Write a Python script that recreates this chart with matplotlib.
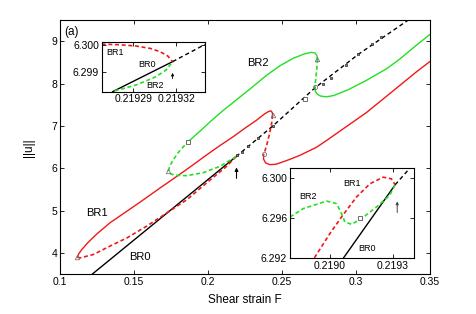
import matplotlib
matplotlib.use("Agg")
import matplotlib.pyplot as plt

plt.rcParams["font.family"] = ["Liberation Sans", "DejaVu Sans"]

RED = "#f01818"
GREEN = "#22e022"
MK = "#777777"

# ---- main panel data ----
br0_solid_x = [0.1215, 0.2190]
br0_solid_y = [3.50, 6.28]
br0_dash_x = [0.2190, 0.2441, 0.2723, 0.3016, 0.3354]
br0_dash_y = [6.28, 7.01, 7.90, 8.69, 9.50]
br0_mark_x = [0.2194, 0.2227, 0.2272, 0.2340, 0.2441, 0.2779, 0.2831, 0.2932, 0.3016, 0.3106, 0.3167]
br0_mark_y = [6.32, 6.40, 6.52, 6.72, 7.01, 7.99, 8.14, 8.43, 8.69, 8.94, 9.11]

br1_dash_low_x = [0.1118, 0.1135, 0.1225, 0.1338, 0.1451, 0.1586, 0.1721, 0.1856, 0.1991, 0.2126, 0.2190]
br1_dash_low_y = [3.91, 3.89, 3.97, 4.17, 4.36, 4.64, 4.95, 5.26, 5.66, 6.05, 6.28]
br1_solid_up_x = [0.1118, 0.1125, 0.1145, 0.1185, 0.1250, 0.1338, 0.1451, 0.1563, 0.1676, 0.1788, 0.1901,
                  0.1991, 0.2081, 0.2171, 0.2250, 0.2329, 0.2380, 0.2408, 0.2425, 0.2435, 0.2437]
br1_solid_up_y = [3.91, 3.98, 4.08, 4.24, 4.46, 4.72, 4.99, 5.26, 5.54, 5.81, 6.09,
                  6.32, 6.54, 6.75, 6.95, 7.14, 7.28, 7.34, 7.36, 7.32, 7.26]
br1_dash_fold_x = [0.2437, 0.2430, 0.2415, 0.2397, 0.2384, 0.2376]
br1_dash_fold_y = [7.26, 7.05, 6.80, 6.55, 6.40, 6.33]
br1_solid_right_x = [0.2376, 0.2376, 0.2390, 0.2419, 0.2460, 0.2486, 0.2550, 0.2622, 0.2734,
                     0.2802, 0.2892, 0.3072, 0.3252, 0.3410, 0.3500]
br1_solid_right_y = [6.33, 6.22, 6.13, 6.09, 6.10, 6.13, 6.21, 6.31, 6.50,
                     6.66, 6.88, 7.32, 7.83, 8.28, 8.52]

br2_dash_low_x = [0.2190, 0.2171, 0.2081, 0.1968, 0.1856, 0.1780, 0.1750, 0.1732,
                  0.1745, 0.1766, 0.1800, 0.1830, 0.1862]
br2_dash_low_y = [6.28, 6.24, 6.05, 5.90, 5.83, 5.84, 5.87, 5.95,
                  6.08, 6.21, 6.38, 6.50, 6.62]
br2_solid_up_x = [0.1862, 0.1946, 0.2014, 0.2100, 0.2193, 0.2300, 0.2397, 0.2490, 0.2577,
                  0.2650, 0.2700, 0.2725, 0.2737, 0.2740]
br2_solid_up_y = [6.62, 6.88, 7.10, 7.36, 7.62, 7.92, 8.20, 8.43, 8.60,
                  8.70, 8.74, 8.72, 8.66, 8.58]
br2_dash_fold_x = [0.2740, 0.2736, 0.2729, 0.2723]
br2_dash_fold_y = [8.58, 8.35, 8.12, 7.93]
br2_solid_right_x = [0.2723, 0.2726, 0.2740, 0.2760, 0.2800, 0.2850, 0.2950, 0.3072, 0.3207,
                     0.3297, 0.3400, 0.3500]
br2_solid_right_y = [7.93, 7.82, 7.75, 7.71, 7.69, 7.72, 7.86, 8.08, 8.35,
                     8.58, 8.88, 9.16]

tri_x = [0.1113, 0.1732, 0.2437, 0.2740]
tri_y = [3.92, 5.95, 7.26, 8.58]
circ_x = [0.2376, 0.2723]
circ_y = [6.33, 7.93]
sq_x = [0.1862, 0.2655]
sq_y = [6.62, 7.64]

arrow_x = 0.2193
arrow_y = [5.70, 6.09]

# ---- inset 1 (top left) ----
in1_br0_solid_x = [0.2192756, 0.2193174]
in1_br0_solid_y = [6.29825, 6.299375]
in1_br0_dash_x = [0.2193174, 0.2193400]
in1_br0_dash_y = [6.299375, 6.30002]
in1_br1_x = [0.2192680, 0.2192800, 0.2192920, 0.2193020, 0.2193090, 0.2193140, 0.2193174]
in1_br1_y = [6.30003, 6.30001, 6.29996, 6.29987, 6.29974, 6.29959, 6.299375]
in1_br2_x = [0.2192770, 0.2192919, 0.2193058, 0.2193128, 0.2193174]
in1_br2_y = [6.29828, 6.29850, 6.29881, 6.29906, 6.299375]
in1_arrow_x = 0.2193174
in1_arrow_y = [6.29863, 6.29906]
in1_xticks = [0.21929, 0.21932]
in1_yticks = [6.299, 6.300]

# ---- inset 2 (bottom right) ----
in2_br0_solid_x = [0.219065, 0.219310]
in2_br0_solid_y = [6.29200, 6.29930]
in2_br0_dash_x = [0.219310, 0.219390]
in2_br0_dash_y = [6.29930, 6.30120]
in2_br1_x = [0.218926, 0.219000, 0.219055, 0.219126, 0.219190, 0.219253, 0.219292, 0.219310]
in2_br1_y = [6.29200, 6.29443, 6.29608, 6.29807, 6.29940, 6.30006, 6.29990, 6.29930]
in2_br2_x = [0.218810, 0.218873, 0.218984, 0.219032, 0.219055, 0.219071, 0.219103, 0.219150,
             0.219221, 0.219284, 0.219310]
in2_br2_y = [6.29608, 6.29692, 6.29767, 6.29741, 6.29642, 6.29558, 6.29535, 6.29592,
             6.29707, 6.29824, 6.29930]
in2_sq_x = [0.219145]
in2_sq_y = [6.29598]
in2_arrow_x = 0.21932
in2_arrow_y = [6.29625, 6.29791]
in2_xticks = [0.2190, 0.2193]
in2_yticks = [6.292, 6.296, 6.300]

DASH = (0, (2.4, 1.6))
BDASH = (0, (3.0, 2.2))


def style_ax(ax, fs=7.5):
    ax.tick_params(direction="in", top=True, right=True, length=3, width=0.6, labelsize=fs, pad=2)
    for s in ax.spines.values():
        s.set_linewidth(0.8)


fig = plt.figure(figsize=(4.77, 3.14), dpi=100)
ax = fig.add_axes([0.126, 0.126, 0.775, 0.810])

ax.plot(br0_solid_x, br0_solid_y, color="black", lw=1.0)
ax.plot(br0_dash_x, br0_dash_y, color="black", lw=1.0, ls=BDASH)
ax.plot(br0_mark_x, br0_mark_y, ls="none", marker="s", ms=2.0, mfc="#888888", mec="#222222", mew=0.5)

ax.plot(br1_dash_low_x, br1_dash_low_y, color=RED, lw=1.2, ls=DASH)
ax.plot(br1_solid_up_x, br1_solid_up_y, color=RED, lw=1.0)
ax.plot(br1_dash_fold_x, br1_dash_fold_y, color=RED, lw=1.2, ls=DASH)
ax.plot(br1_solid_right_x, br1_solid_right_y, color=RED, lw=1.0)

ax.plot(br2_dash_low_x, br2_dash_low_y, color=GREEN, lw=1.2, ls=DASH)
ax.plot(br2_solid_up_x, br2_solid_up_y, color=GREEN, lw=1.0)
ax.plot(br2_dash_fold_x, br2_dash_fold_y, color=GREEN, lw=1.2, ls=DASH)
ax.plot(br2_solid_right_x, br2_solid_right_y, color=GREEN, lw=1.0)

ax.plot(tri_x, tri_y, ls="none", marker="^", ms=3.2, mfc="none", mec=MK, mew=0.6)
ax.plot(circ_x, circ_y, ls="none", marker="o", ms=3.0, mfc="none", mec=MK, mew=0.6)
ax.plot(sq_x, sq_y, ls="none", marker="s", ms=3.0, mfc="white", mec="#555555", mew=0.6)

ax.annotate("", xy=(arrow_x, arrow_y[1]), xytext=(arrow_x, arrow_y[0]),
            arrowprops=dict(arrowstyle="-|>", color="black", lw=0.8, mutation_scale=5))

ax.set_xlim(0.1, 0.35)
ax.set_ylim(3.5, 9.5)
ax.set_xticks([0.1, 0.15, 0.2, 0.25, 0.3, 0.35])
ax.set_xticklabels(["0.1", "0.15", "0.2", "0.25", "0.3", "0.35"])
ax.set_yticks([4, 5, 6, 7, 8, 9])
style_ax(ax)
ax.set_xlabel("Shear strain F", fontsize=8.5, labelpad=5)
ax.set_ylabel("||u||", fontsize=8.5, labelpad=12)

ax.text(0.011, 0.953, "(a)", transform=ax.transAxes, fontsize=8.5, ha="left", va="center")
ax.text(0.2338, 8.49, "BR2", fontsize=8, ha="center", va="center")
ax.text(0.1250, 4.96, "BR1", fontsize=8, ha="center", va="center")
ax.text(0.1540, 3.90, "BR0", fontsize=8, ha="center", va="center")

# inset 1
a1 = fig.add_axes([0.2132, 0.708, 0.2166, 0.159])
a1.plot(in1_br0_solid_x, in1_br0_solid_y, color="black", lw=1.0)
a1.plot(in1_br0_dash_x, in1_br0_dash_y, color="black", lw=1.0, ls=BDASH)
a1.plot(in1_br1_x, in1_br1_y, color=RED, lw=1.2, ls=DASH)
a1.plot(in1_br2_x, in1_br2_y, color=GREEN, lw=1.2, ls=DASH)
a1.annotate("", xy=(in1_arrow_x, in1_arrow_y[1]), xytext=(in1_arrow_x, in1_arrow_y[0]),
            arrowprops=dict(arrowstyle="-|>", color="black", lw=0.6, mutation_scale=4))
a1.set_xlim(0.219268, 0.21934)
a1.set_ylim(6.29825, 6.30012)
a1.set_xticks(in1_xticks)
a1.set_xticklabels(["0.21929", "0.21932"])
a1.set_yticks(in1_yticks)
a1.set_yticklabels(["6.299", "6.300"])
style_ax(a1)
a1.text(0.129, 0.794, "BR1", transform=a1.transAxes, fontsize=6.5, ha="center", va="center")
a1.text(0.436, 0.548, "BR0", transform=a1.transAxes, fontsize=6.5, ha="center", va="center")
a1.text(0.516, 0.120, "BR2", transform=a1.transAxes, fontsize=6.5, ha="center", va="center")

# inset 2
a2 = fig.add_axes([0.608, 0.179, 0.26, 0.2866])
a2.plot(in2_br0_solid_x, in2_br0_solid_y, color="black", lw=1.0)
a2.plot(in2_br0_dash_x, in2_br0_dash_y, color="black", lw=1.0, ls=BDASH)
a2.plot(in2_br1_x, in2_br1_y, color=RED, lw=1.2, ls=DASH)
a2.plot(in2_br2_x, in2_br2_y, color=GREEN, lw=1.2, ls=DASH)
a2.plot(in2_sq_x, in2_sq_y, ls="none", marker="s", ms=3.0, mfc="white", mec="#555555", mew=0.6)
a2.annotate("", xy=(in2_arrow_x, in2_arrow_y[1]), xytext=(in2_arrow_x, in2_arrow_y[0]),
            arrowprops=dict(arrowstyle="-|>", color="#444444", lw=0.7, mutation_scale=4))
a2.set_xlim(0.21881, 0.2194)
a2.set_ylim(6.292, 6.301)
a2.set_xticks(in2_xticks)
a2.set_xticklabels(["0.2190", "0.2193"])
a2.set_yticks(in2_yticks)
a2.set_yticklabels(["6.292", "6.296", "6.300"])
style_ax(a2)
a2.text(0.498, 0.827, "BR1", transform=a2.transAxes, fontsize=6.5, ha="center", va="center")
a2.text(0.148, 0.678, "BR2", transform=a2.transAxes, fontsize=6.5, ha="center", va="center")
a2.text(0.619, 0.104, "BR0", transform=a2.transAxes, fontsize=6.5, ha="center", va="center")

fig.savefig("out.png", dpi=100)
